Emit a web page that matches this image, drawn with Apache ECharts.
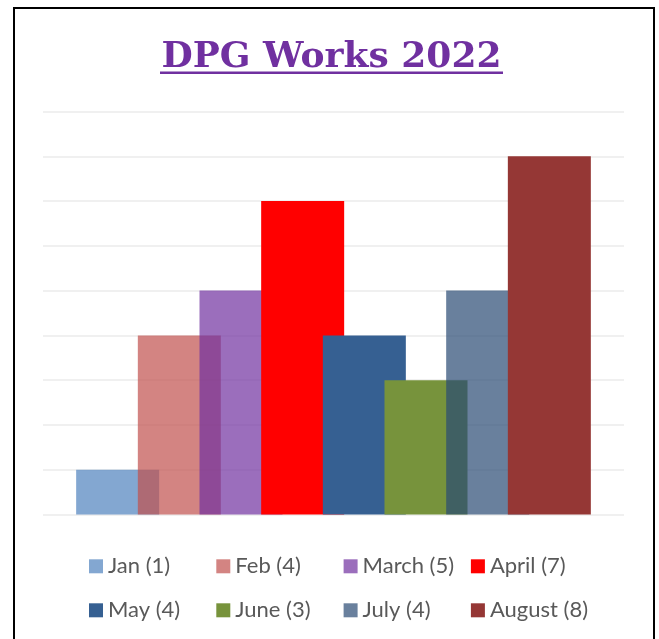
<!DOCTYPE html>
<html>
<head>
<meta charset="utf-8">
<script src="https://cdn.jsdelivr.net/npm/echarts@6/dist/echarts.min.js"></script>
<style>
  html, body { margin: 0; padding: 0; background: #fff; }
  #chart { width: 659px; height: 639px; }
</style>
</head>
<body>
<div id="chart"></div>
<script>
// legend labels as printed on the chart
const legendLabels = ["Jan (1)", "Feb (4)", "March (5)", "April (7)", "May (4)", "June (3)", "July (4)", "August (8)"];
// bar heights as drawn (July bar reaches 5 in the picture)
const values = [1, 4, 5, 7, 4, 3, 5, 8];
// bar colours (some are see-through like the original)
const barColors = [
  "rgba(79,129,189,0.7)",
  "rgba(192,80,77,0.7)",
  "rgba(112,48,160,0.7)",
  "#ff0000",
  "#366092",
  "#77933c",
  "rgba(42,74,116,0.7)",
  "#953735"
];
// y scale
const yMin = 0;
const yMax = 9;
const yStep = 1;

var myChart = echarts.init(document.getElementById("chart"));

// legend: 4 columns x 2 rows
const legends = legendLabels.map((n, i) => ({
  data: [n],
  left: 89 + (i % 4) * 127.3,
  top: i < 4 ? 555.3 : 599.3,
  padding: 0,
  icon: "rect",
  itemWidth: 14,
  itemHeight: 14,
  selectedMode: false,
  textStyle: {
    fontFamily: "Lato",
    fontSize: 22,
    lineHeight: 22,
    color: "#595959"
  }
}));

const series = legendLabels.map((n, i) => ({
  name: n,
  type: "bar",
  data: [values[i]],
  barWidth: 83,
  barGap: "-25.7%",
  itemStyle: { color: barColors[i] },
  emphasis: { disabled: true }
}));

const option = {
  animation: false,
  backgroundColor: "#fff",
  grid: { left: 43, right: 35, top: 111.5, bottom: 124.5 },
  xAxis: {
    type: "category",
    data: ["2022"],
    show: false
  },
  yAxis: {
    type: "value",
    min: yMin,
    max: yMax,
    interval: yStep,
    axisLine: { show: false },
    axisTick: { show: false },
    axisLabel: { show: false },
    splitLine: {
      show: true,
      lineStyle: { color: "#f0f0f0", width: 2 }
    }
  },
  legend: legends,
  series: series,
  graphic: [
    {
      // chart frame
      type: "rect",
      shape: { x: 14, y: 8, width: 640, height: 660 },
      style: { fill: "none", stroke: "#000", lineWidth: 2 },
      silent: true
    },
    {
      type: "text",
      style: {
        x: 331.5,
        y: 58,
        text: "DPG Works 2022",
        fill: "#7030a0",
        font: "bold 36px 'DejaVu Serif'",
        textAlign: "center",
        textVerticalAlign: "middle"
      },
      silent: true
    },
    {
      // underline under the title
      type: "rect",
      shape: { x: 160, y: 71.5, width: 343, height: 2.5 },
      style: { fill: "#7030a0" },
      silent: true
    }
  ]
};

myChart.setOption(option);
</script>
</body>
</html>
